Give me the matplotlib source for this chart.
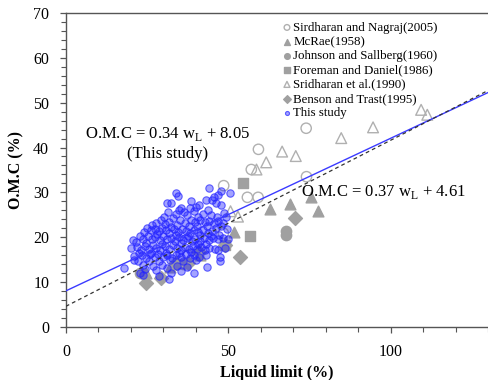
import matplotlib
matplotlib.use("Agg")
import matplotlib.pyplot as plt
from matplotlib.ticker import MultipleLocator

plt.rcParams['font.family'] = ['Liberation Serif', 'DejaVu Serif']
plt.rcParams['mathtext.fontset'] = 'custom'
plt.rcParams['mathtext.rm'] = 'Liberation Serif'

# ---- data ----
sirdharan_x = [59.3, 74.0, 57.1, 48.6, 55.9, 59.2, 74.1, 48.5, 37.6]
sirdharan_y = [39.6, 44.3, 35.1, 31.5, 28.9, 28.9, 33.5, 20.9, 16.0]

mcrae_x = [62.8, 68.9, 75.6, 77.6, 51.7, 41.2, 24.8, 32.0]
mcrae_y = [26.2, 27.4, 28.9, 25.9, 21.2, 16.0, 12.0, 13.4]

johnson_x = [67.9, 67.9, 22.8, 36.0]
johnson_y = [20.4, 21.4, 12.0, 14.0]

foreman_x = [54.6, 56.6, 48.9]
foreman_y = [32.2, 20.3, 18.3]

sridharan_x = [66.6, 70.8, 61.7, 58.7, 84.8, 94.6, 109.4, 111.3, 50.7, 53.0]
sridharan_y = [39.1, 38.1, 36.7, 35.1, 42.1, 44.5, 48.4, 47.3, 25.8, 24.6]

benson_x = [70.5, 53.5, 24.8, 29.4, 37.6, 49.1, 34.0, 41.0]
benson_y = [24.2, 15.5, 9.7, 11.0, 14.2, 18.3, 14.3, 16.8]

this_study = [
    (33.9, 29.8), (34.4, 29.3), (44.2, 30.9), (47.8, 30.2), (50.4, 29.9), (46.8, 29.4), (45.7, 29.0),
    (31.2, 27.7), (32.4, 27.7), (46.3, 27.7), (47.8, 27.2), (41.1, 27.2), (40.1, 26.8), (43.0, 28.3),
    (38.5, 28.0), (45.0, 28.2),
    (35.5, 26.5), (38.1, 26.5), (31.4, 25.7), (43.7, 26.1), (48.8, 25.3), (49.3, 24.6), (36.5, 25.6),
    (39.5, 25.8), (42.2, 25.2), (33.8, 25.1), (34.8, 26.0), (37.2, 24.9), (40.8, 24.6), (44.6, 25.0),
    (46.5, 24.5), (30.2, 24.6),
    (29.3, 23.9), (31.8, 23.5), (33.0, 24.2), (35.2, 23.8), (36.8, 23.2), (38.4, 23.9), (39.8, 23.4),
    (41.2, 23.8), (42.8, 23.3), (44.2, 23.7), (45.6, 23.1), (47.0, 23.6), (48.4, 23.1), (27.8, 23.2),
    (26.5, 22.8), (30.5, 22.9), (34.1, 22.7), (37.9, 22.5), (40.5, 22.6), (43.5, 22.4), (46.3, 22.1),
    (32.4, 22.3),
    (25.0, 22.0), (26.1, 21.6), (27.4, 21.9), (28.6, 21.3), (29.7, 22.1), (30.9, 21.6), (31.7, 20.9),
    (33.2, 21.8), (34.6, 21.2), (35.8, 21.9), (36.9, 21.4), (38.2, 21.0), (39.4, 21.7), (40.8, 21.2),
    (42.1, 21.6), (43.7, 21.0), (45.0, 21.5), (47.8, 22.4), (49.5, 21.8), (24.0, 21.1), (28.0, 20.7),
    (33.8, 20.6), (37.6, 20.2), (41.4, 20.5), (44.6, 20.3), (47.2, 20.6),
    (20.6, 19.4), (21.6, 19.0), (22.8, 20.2), (23.9, 19.6), (25.2, 20.3), (26.4, 19.5), (27.6, 20.0),
    (28.9, 19.3), (30.0, 20.2), (31.2, 19.6), (32.5, 19.9), (33.6, 19.2), (34.9, 20.0), (36.1, 19.4),
    (37.4, 19.8), (38.7, 19.1), (39.9, 19.7), (41.3, 19.2), (42.6, 19.9), (44.0, 19.3), (45.3, 19.8),
    (46.9, 19.5), (48.3, 19.9), (50.0, 19.6), (24.7, 18.8), (29.5, 18.6), (35.4, 18.7), (40.6, 18.5),
    (43.3, 18.4),
    (20.1, 17.5), (21.9, 17.9), (23.0, 17.2), (24.3, 18.1), (25.6, 17.4), (26.9, 18.3), (27.9, 17.6),
    (29.1, 17.1), (30.4, 18.0), (31.7, 17.3), (32.9, 18.2), (34.1, 17.5), (35.3, 17.1), (36.6, 17.9),
    (37.8, 17.4), (39.1, 18.0), (40.3, 17.3), (41.6, 17.8), (42.9, 17.2), (44.2, 17.7), (45.8, 17.4),
    (46.9, 17.2), (49.0, 17.6), (22.4, 16.6), (26.2, 16.5), (30.9, 16.6), (34.7, 16.4), (38.5, 16.7),
    (21.1, 15.8), (23.3, 16.0), (24.8, 15.4), (26.0, 16.2), (27.3, 15.6), (28.5, 16.3), (29.8, 15.5),
    (31.2, 16.0), (32.6, 15.3), (33.9, 16.1), (35.6, 15.6), (36.9, 16.2), (38.2, 15.4), (39.6, 16.0),
    (41.0, 15.5), (43.0, 16.1), (47.4, 15.7), (25.5, 14.8), (28.8, 14.6), (32.0, 14.9), (36.1, 14.7),
    (40.2, 14.9),
    (21.1, 14.9), (22.2, 14.6), (17.8, 13.1), (23.8, 13.8), (26.7, 13.5), (29.6, 13.9), (31.0, 13.2),
    (34.3, 13.6), (37.4, 13.3), (43.6, 13.3), (47.4, 14.6), (24.4, 12.9), (27.9, 12.6),
    (22.7, 12.0), (23.7, 11.6), (31.9, 10.6), (32.4, 12.0), (39.6, 12.1), (35.5, 12.4), (28.8, 11.4),
]
this_x = [p[0] for p in this_study]
this_y = [p[1] for p in this_study]

fit_this = (0.34, 8.05)
fit_all = (0.37, 4.61)
x_line = [0, 130]

# ---- figure ----
fig = plt.figure(figsize=(4.88, 3.80), dpi=100)
ax = fig.add_axes([0.135, 0.1395, 0.865, 0.8265])

gray = '#a0a0a0'
ax.scatter(sirdharan_x, sirdharan_y, s=55, marker='o', facecolors='none', edgecolors='#b0b0b0',
           linewidths=1.0, label='Sirdharan and Nagraj(2005)', zorder=3)
ax.scatter(mcrae_x, mcrae_y, s=60, marker='^', color=gray, edgecolors=gray,
           label='McRae(1958)', zorder=3)
ax.scatter(johnson_x, johnson_y, s=55, marker='o', color=gray, edgecolors=gray,
           label='Johnson and Sallberg(1960)', zorder=3)
ax.scatter(foreman_x, foreman_y, s=55, marker='s', color=gray, edgecolors=gray,
           label='Foreman and Daniel(1986)', zorder=3)
ax.scatter(sridharan_x, sridharan_y, s=60, marker='^', facecolors='none', edgecolors='#b0b0b0',
           linewidths=1.0, label='Sridharan et al.(1990)', zorder=3)
ax.scatter(benson_x, benson_y, s=50, marker='D', color=gray, edgecolors=gray,
           label='Benson and Trast(1995)', zorder=3)
ax.scatter(this_x, this_y, s=28, marker='o', facecolors=(0.1, 0.1, 1.0, 0.4),
           edgecolors=(0.15, 0.15, 1.0, 0.7), linewidths=0.8, label='This study', zorder=4)

ax.plot(x_line, [fit_this[0] * v + fit_this[1] for v in x_line], color='#3a3aff', lw=1.0, zorder=5)
ax.plot(x_line, [fit_all[0] * v + fit_all[1] for v in x_line], color='#333333', lw=0.9,
        ls=(0, (3, 2.5)), zorder=5)

ax.text(31.4, 40.9, 'O.M.C = 0.34 w$_\\mathregular{L}$ + 8.05\n(This study)', ha='center',
        va='center', fontsize=12, linespacing=1.25)
ax.text(72.3, 30.1, 'O.M.C = 0.37 w$_\\mathregular{L}$ + 4.61', ha='left', va='center', fontsize=12)

ax.set_xlim(0, 130)
ax.set_ylim(0, 70)
ax.xaxis.set_major_locator(MultipleLocator(50))
ax.xaxis.set_minor_locator(MultipleLocator(10))
ax.yaxis.set_major_locator(MultipleLocator(10))
ax.yaxis.set_minor_locator(MultipleLocator(2))
ax.tick_params(which='both', direction='out', color='#555555', labelsize=11.5)
ax.tick_params(which='major', length=4, width=0.9)
ax.tick_params(which='minor', length=3.5, width=0.8)
ax.tick_params(axis='x', which='major', pad=8)
ax.tick_params(axis='y', which='major', pad=8)
ax.spines['right'].set_visible(False)
for s in ['left', 'bottom', 'top']:
    ax.spines[s].set_color('#555555')
    ax.spines[s].set_linewidth(1.0)

ax.set_xlabel('Liquid limit (%)', fontsize=11.5, fontweight='bold', labelpad=4)
ax.set_ylabel('O.M.C (%)', fontsize=11.5, fontweight='bold', labelpad=6)

leg = ax.legend(loc='upper left', bbox_to_anchor=(0.51, 0.98), frameon=False, fontsize=9.3,
                markerscale=0.55, handlelength=0.5, handletextpad=0.25, labelspacing=0.17,
                borderaxespad=0.0, borderpad=0.2)

fig.savefig('out.png', dpi=100)
